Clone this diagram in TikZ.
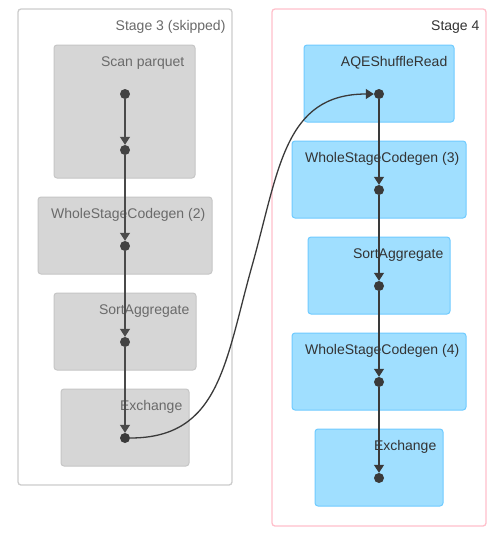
\documentclass[tikz,border=0pt]{standalone}
\usepackage{fontspec}
\setmainfont{Liberation Sans}
\usetikzlibrary{arrows.meta,calc}

\definecolor{skipfill}{HTML}{D6D6D6}
\definecolor{skipline}{HTML}{C6C6C6}
\definecolor{skiptext}{HTML}{6A6A6A}
\definecolor{clusterline}{HTML}{CCCCCC}
\definecolor{pinkline}{HTML}{FFC0CB}
\definecolor{opfill}{HTML}{A0DFFF}
\definecolor{opline}{HTML}{6FCBFF}
\definecolor{edgecol}{HTML}{3A3A3A}
\definecolor{skipedge}{HTML}{4A4A4A}

\tikzset{
  every node/.style={font=\fontsize{14}{16}\selectfont},
  cluster/.style={draw=clusterline, line width=1.3pt, fill=white, rounded corners=3pt,
    inner sep=0pt, minimum width=#1},
  skipop/.style={draw=skipline, line width=1pt, fill=skipfill, rounded corners=3pt,
    inner sep=0pt},
  liveop/.style={draw=opline, line width=1pt, fill=opfill, rounded corners=3pt,
    inner sep=0pt},
  title/.style={anchor=base east, inner sep=0pt},
  dot/.style={circle, fill=edgecol, inner sep=0pt, minimum size=10pt},
  flow/.style={draw=edgecol, line width=1.3pt, -{Triangle[length=8pt,width=10pt]}},
}

\begin{document}
\begin{tikzpicture}[x=1pt, y=-1pt]
\useasboundingbox (0,0) rectangle (497,536);

% stage clusters
\node[cluster=214pt, minimum height=476pt] (st3) at (125,247) {};
\node[cluster=214pt, minimum height=517pt, draw=pinkline] (st4) at (379,267.5) {};
\node[title, text=skiptext] at ([xshift=-7pt,yshift=-22pt]st3.north east) {Stage 3 (skipped)};
\node[title, text=black!80] at ([xshift=-7pt,yshift=-22pt]st4.north east) {Stage 4};

% stage 3 operators (skipped)
\node[skipop, minimum width=141pt, minimum height=133pt] (scan) at (124.5,111.5) {};
\node[skipop, minimum width=174pt, minimum height=77pt] (wsc2) at (125,235.5) {};
\node[skipop, minimum width=142pt, minimum height=77pt] (sa3) at (125,331.5) {};
\node[skipop, minimum width=128pt, minimum height=77pt] (ex3) at (125,427.5) {};
\node[title, text=skiptext] at ([xshift=-11pt,yshift=-22pt]scan.north east) {Scan parquet};
\node[title, text=skiptext] at ([xshift=-7pt,yshift=-22pt]wsc2.north east) {WholeStageCodegen (2)};
\node[title, text=skiptext] at ([xshift=-7pt,yshift=-22pt]sa3.north east) {SortAggregate};
\node[title, text=skiptext] at ([xshift=-7pt,yshift=-22pt]ex3.north east) {Exchange};

% stage 4 operators
\node[liveop, minimum width=150pt, minimum height=77pt] (aqe) at (379,83.5) {};
\node[liveop, minimum width=174pt, minimum height=77pt] (wsc3) at (379,179.5) {};
\node[liveop, minimum width=142pt, minimum height=77pt] (sa4) at (379,275.5) {};
\node[liveop, minimum width=174pt, minimum height=77pt] (wsc4) at (379,371.5) {};
\node[liveop, minimum width=128pt, minimum height=77pt] (ex4) at (379,467.5) {};
\node[title, text=black!80] at ([xshift=-7pt,yshift=-22pt]aqe.north east) {AQEShuffleRead};
\node[title, text=black!80] at ([xshift=-7pt,yshift=-22pt]wsc3.north east) {WholeStageCodegen (3)};
\node[title, text=black!80] at ([xshift=-7pt,yshift=-22pt]sa4.north east) {SortAggregate};
\node[title, text=black!80] at ([xshift=-7pt,yshift=-22pt]wsc4.north east) {WholeStageCodegen (4)};
\node[title, text=black!80] at ([xshift=-7pt,yshift=-22pt]ex4.north east) {Exchange};

% plan points
\node[dot, fill=skipedge!90!black] (p1) at (125,94) {};
\node[dot, fill=skipedge!90!black] (p2) at (125,150) {};
\node[dot, fill=skipedge!90!black] (p3) at (125,246) {};
\node[dot, fill=skipedge!90!black] (p4) at (125,342) {};
\node[dot] (p5) at (125,438) {};
\node[dot] (q1) at (379,94) {};
\node[dot] (q2) at (379,190) {};
\node[dot] (q3) at (379,286) {};
\node[dot] (q4) at (379,382) {};
\node[dot] (q5) at (379,478) {};

% edges
\draw[flow, draw=skipedge] (p1) -- (p2);
\draw[flow, draw=skipedge] (p2) -- (p3);
\draw[flow, draw=skipedge] (p3) -- (p4);
\draw[flow, draw=skipedge] (p4) -- (p5);
\draw[flow] (q1) -- (q2);
\draw[flow] (q2) -- (q3);
\draw[flow] (q3) -- (q4);
\draw[flow] (q4) -- (q5);

% shuffle edge between the stages, an S-curve through the midpoint
\coordinate (bend) at ($(p5)!0.5!(q1)$);
\draw[flow] (p5) .. controls +(95,0) and +(-27,96) .. (bend)
                 .. controls +(27,-96) and +(-95,0) .. (q1);
\end{tikzpicture}
\end{document}
